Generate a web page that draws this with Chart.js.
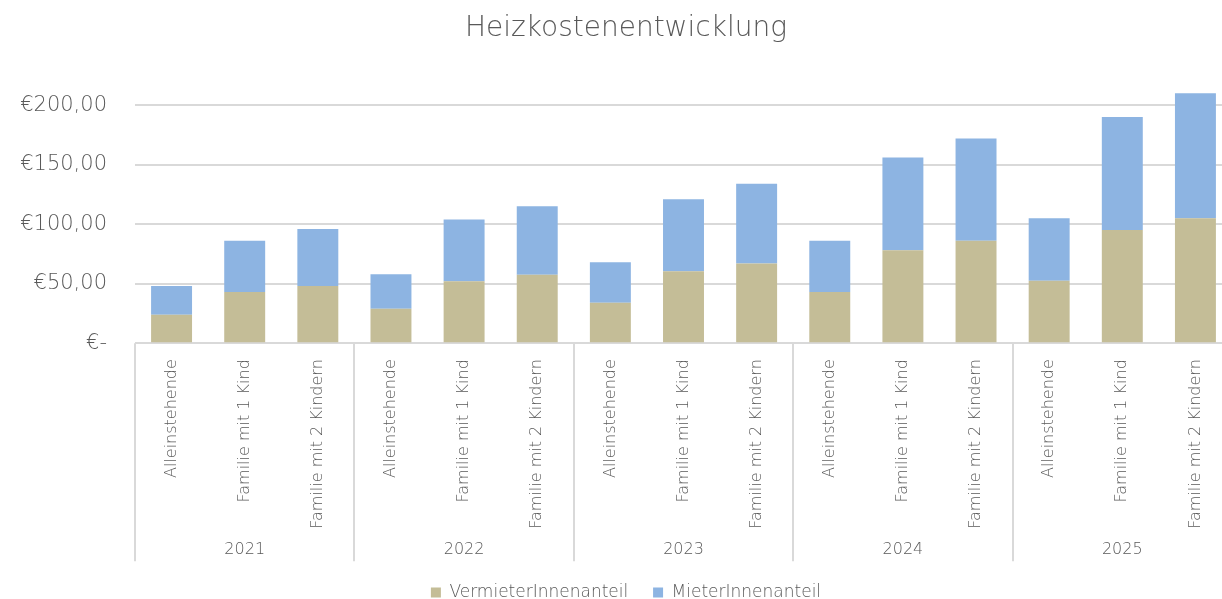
<!DOCTYPE html>
<html>
<head>
<meta charset="utf-8">
<script src="https://cdn.jsdelivr.net/npm/chart.js@4"></script>
<style>
  html, body { margin: 0; padding: 0; overflow: hidden; background: #fff; }
  #wrap { width: 1252px; height: 599px; }
</style>
</head>
<body>
<div id="wrap"><canvas id="myChart"></canvas></div>
<script>
// Daten
const jahre = ['2021', '2022', '2023', '2024', '2025'];
const haushalte = ['Alleinstehende', 'Familie mit 1 Kind', 'Familie mit 2 Kindern'];
const vermieterAnteil = [24, 43, 48, 29, 52, 57.5, 34, 60.5, 67, 43, 78, 86, 52.5, 95, 105];
const mieterAnteil    = [24, 43, 48, 29, 52, 57.5, 34, 60.5, 67, 43, 78, 86, 52.5, 95, 105];
const yTicks = [0, 50, 100, 150, 200];

const grau = '#595959';
const schrift = "'DejaVu Sans', sans-serif";

// Kategorien: jede Haushaltsart pro Jahr
let labels = [];
jahre.forEach(j => haushalte.forEach(h => labels.push(h)));

function euro(v) {
    if (v === 0) return '€-';
    return '€' + v.toFixed(2).replace('.', ',');
}

// Trennlinien zwischen den Jahresgruppen
const gruppenLinien = {
    id: 'gruppenLinien',
    afterDraw(chart) {
        const x = chart.scales.x;
        const x2 = chart.scales.jahr;
        const ctx = chart.ctx;
        const breite = x.getPixelForValue(1) - x.getPixelForValue(0);
        ctx.save();
        ctx.strokeStyle = '#d9d9d9';
        ctx.lineWidth = 2;
        for (let i = 0; i <= labels.length; i += 3) {
            const px = Math.round(x.getPixelForValue(i) - breite / 2);
            ctx.beginPath();
            ctx.moveTo(px, chart.chartArea.bottom);
            ctx.lineTo(px, x2.top + 28);
            ctx.stroke();
        }
        ctx.restore();
    }
};

let ctx = document.getElementById('myChart').getContext('2d');
new Chart(ctx, {
    type: 'bar',
    data: {
        labels: labels,
        datasets: [{
            label: 'VermieterInnenanteil',
            data: vermieterAnteil,
            backgroundColor: '#C4BD97',
            barPercentage: 0.56,
            categoryPercentage: 1
        }, {
            label: 'MieterInnenanteil',
            data: mieterAnteil,
            backgroundColor: '#8DB4E2',
            barPercentage: 0.56,
            categoryPercentage: 1
        }]
    },
    options: {
        responsive: true,
        maintainAspectRatio: false,
        animation: false,
        layout: { padding: { left: 0, top: 0, bottom: -12 } },
        scales: {
            x: {
                stacked: true,
                weight: 0,
                grid: { display: false, drawTicks: false },
                border: { display: false },
                afterFit: s => { s.height = 190; },
                ticks: {
                    autoSkip: false,
                    minRotation: 90,
                    maxRotation: 90,
                    padding: 16,
                    color: grau,
                    font: { family: schrift, size: 16, weight: 200 }
                }
            },
            jahr: {
                type: 'category',
                position: 'bottom',
                labels: jahre,
                offset: true,
                weight: 1,
                grid: { display: false, drawTicks: false },
                border: { display: false },
                afterFit: s => { s.height = 26; },
                ticks: {
                    padding: 7,
                    color: grau,
                    font: { family: schrift, size: 16, weight: 200 }
                }
            },
            y: {
                stacked: true,
                min: 0,
                max: 211,
                border: { display: false },
                grid: { color: '#d9d9d9', lineWidth: 2, drawTicks: false },
                afterBuildTicks: s => { s.ticks = yTicks.map(v => ({ value: v })); },
                afterFit: s => { s.width = 135; },
                ticks: {
                    padding: 28,
                    color: grau,
                    font: { family: schrift, size: 21, weight: 200 },
                    callback: v => euro(v)
                }
            },
            rechts: {
                position: 'right',
                display: true,
                grid: { display: false },
                border: { display: false },
                ticks: { display: false },
                afterFit: s => { s.width = 20; }
            }
        },
        plugins: {
            title: {
                display: true,
                text: 'Heizkostenentwicklung',
                color: grau,
                font: { family: schrift, size: 28, weight: 200 },
                padding: { top: 12, bottom: 46.4 }
            },
            legend: {
                position: 'bottom',
                labels: {
                    boxWidth: 10,
                    boxHeight: 10,
                    padding: 24.8,
                    color: grau,
                    font: { family: schrift, size: 17, weight: 200 }
                }
            },
            tooltip: { enabled: false }
        }
    },
    plugins: [gruppenLinien]
});
</script>
</body>
</html>
